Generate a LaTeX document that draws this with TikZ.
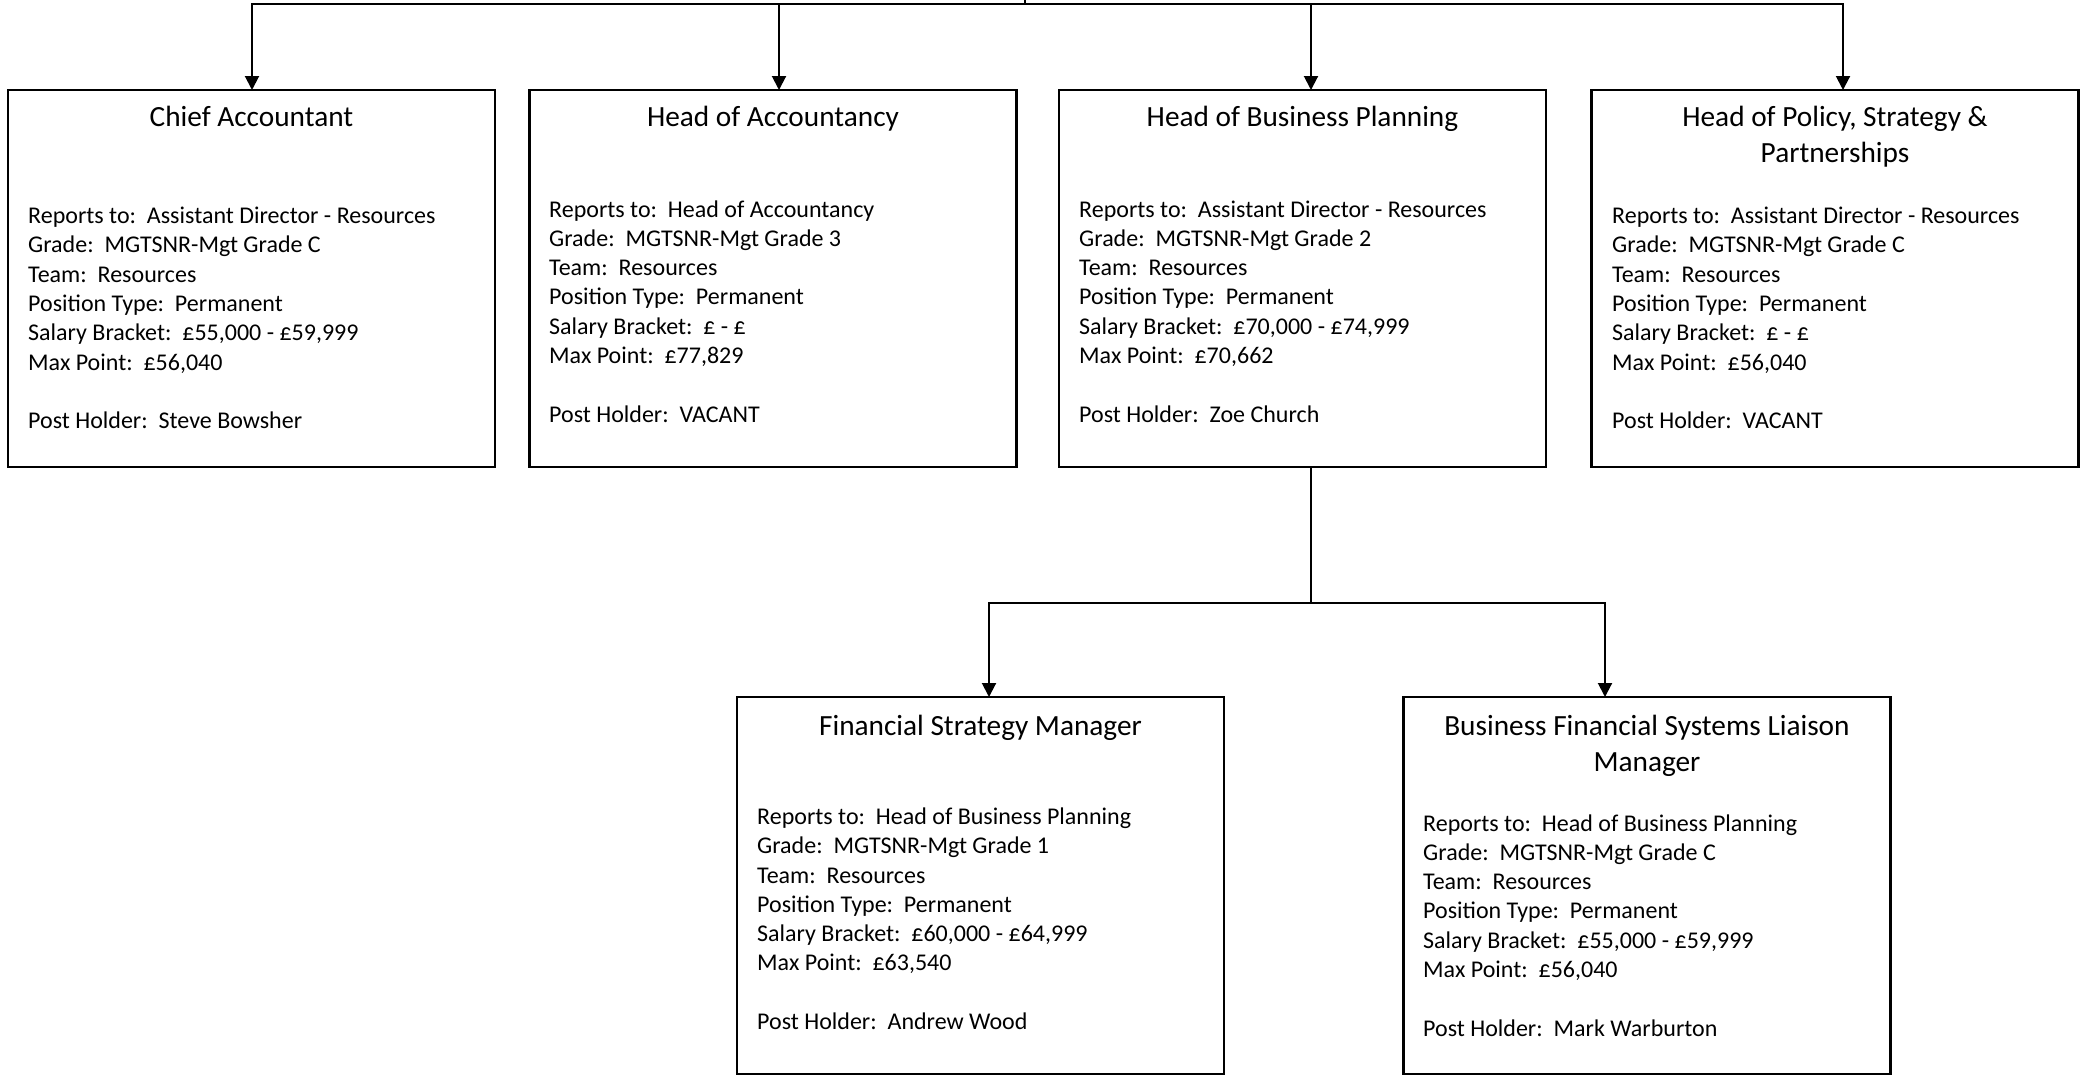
\documentclass[tikz,border=0pt]{standalone}
\usepackage{fontspec}
\setmainfont{Carlito}
\usetikzlibrary{arrows.meta}
\frenchspacing
\newcommand\info[7]{\vtop{\fontsize{24}{29.3}\selectfont
  \hbox{Reports to:~~#1}\hbox{Grade:~~#2}\hbox{Team:~~#3}%
  \hbox{Position Type:~~#4}\hbox{Salary Bracket:~~#5}\hbox{Max Point:~~#6}%
  \hbox{}\hbox{Post Holder:~~#7}}}
\newcommand\twoline[2]{\vtop{\hbox to 0pt{\hss #1\hss}\hbox to 0pt{\hss #2\hss}}}
\tikzset{
  post/.style={draw=black, line width=2.1pt, minimum width=487pt, minimum height=377pt, inner sep=0pt, outer sep=0pt},
  ttl/.style={font=\fontsize{29.3}{36.2}\selectfont, inner sep=0pt, anchor=base},
  txt/.style={inner sep=0pt, anchor=base west},
  conn/.style={line width=2pt, draw=black},
  arr/.style={conn, -{Triangle[length=14pt,width=14pt]}}
}
\begin{document}
\begin{tikzpicture}[x=1pt, y=-1pt]
\useasboundingbox (0,0) rectangle (2089,1080);
% boxes
\node[post] (b1) at (251.5,278.5) {};
\node[post] (b2) at (773,278.5) {};
\node[post] (b3) at (1302.5,278.5) {};
\node[post] (b4) at (1835,278.5) {};
\node[post] (b5) at (980.5,885.5) {};
\node[post] (b6) at (1647,885.5) {};
% titles
\node[ttl] (b1t) at (251.5,126.5) {Chief Accountant};
\node[ttl] (b2t) at (773,126.5) {Head of Accountancy};
\node[ttl] (b3t) at (1302.5,126.5) {Head of Business Planning};
\node[ttl] (b4t) at (1835,126.5) {\twoline{Head of Policy, Strategy \&}{Partnerships}};
\node[ttl] (b5t) at (980.5,735.6) {Financial Strategy Manager};
\node[ttl] (b6t) at (1647,735.6) {\twoline{Business Financial Systems Liaison}{Manager}};
% details
\node[txt] (b1i) at (28,223.5) {\info{Assistant Director - Resources}{MGTSNR-Mgt Grade C}{Resources}{Permanent}{£55,000 - £59,999}{£56,040}{Steve Bowsher}};
\node[txt] (b2i) at (549,217) {\info{Head of Accountancy}{MGTSNR-Mgt Grade 3}{Resources}{Permanent}{£ - £}{£77,829}{VACANT}};
\node[txt] (b3i) at (1079,217) {\info{Assistant Director - Resources}{MGTSNR-Mgt Grade 2}{Resources}{Permanent}{£70,000 - £74,999}{£70,662}{Zoe Church}};
\node[txt] (b4i) at (1612,223.5) {\info{Assistant Director - Resources}{MGTSNR-Mgt Grade C}{Resources}{Permanent}{£ - £}{£56,040}{VACANT}};
\node[txt] (b5i) at (757,824.4) {\info{Head of Business Planning}{MGTSNR-Mgt Grade 1}{Resources}{Permanent}{£60,000 - £64,999}{£63,540}{Andrew Wood}};
\node[txt] (b6i) at (1423,831) {\info{Head of Business Planning}{MGTSNR-Mgt Grade C}{Resources}{Permanent}{£55,000 - £59,999}{£56,040}{Mark Warburton}};
% connectors
\coordinate (parent) at (1025,0);
\coordinate (bus) at (1025,4);
\coordinate (bus2) at (1311,603);
\draw[conn] (parent) -- (bus);
\draw[arr] (bus) -| ([xshift=0.5pt]b1.north);
\draw[arr] (bus) -| ([xshift=6pt]b2.north);
\draw[arr] (bus) -| ([xshift=8.5pt]b3.north);
\draw[arr] (bus) -| ([xshift=8pt]b4.north);
\draw[conn] ([xshift=8.5pt]b3.south) -- (bus2);
\draw[arr] (bus2) -| ([xshift=8.5pt]b5.north);
\draw[arr] (bus2) -| ([xshift=-42pt]b6.north);
\end{tikzpicture}
\end{document}
